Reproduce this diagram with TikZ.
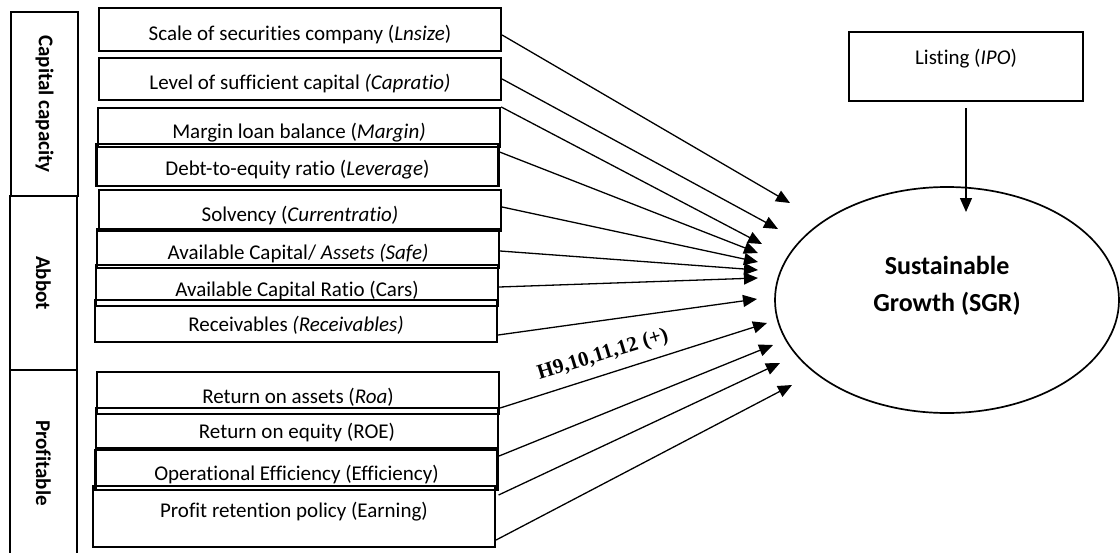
\documentclass[tikz,border=0pt]{standalone}
\usepackage{fontspec}
\setmainfont[Ligatures=NoCommon]{Carlito}
\newfontfamily\timesfont{Liberation Serif}
\usetikzlibrary{arrows.meta}
\usetikzlibrary{shapes.geometric}

\begin{document}
\begin{tikzpicture}[x=0.5pt, y=-0.5pt,
    indicator/.style={draw, line width=1.1pt, inner sep=0pt, minimum width=201pt, text height=13pt, text depth=2.5pt, font=\fontsize{10.5}{12}\selectfont},
    factorbox/.style={draw, line width=0.6pt, inner sep=0pt, rotate=-90, minimum height=33.5pt, font=\fontsize{10.5}{12}\selectfont\bfseries},
    effect/.style={-{Triangle[length=7pt, width=6pt]}, line width=0.65pt}]
      \useasboundingbox (0,0) rectangle (1120,552);

      \node[factorbox, minimum width=92pt] (capital) at (44.5,104) {Capital capacity};
      \node[factorbox, minimum width=87pt] (abbot) at (43.5,283) {Abbot};
      \node[factorbox, minimum width=93pt] (profitable) at (43.5,463) {Profitable};

      \node[indicator, minimum height=21.5pt] (Lnsize) at (300,29.5) {Scale of securities company (\textit{Lnsize})};
      \node[indicator, minimum height=21pt] (Capratio) at (300,79) {Level of sufficient capital \textit{(Capratio)}};
      \node[indicator, minimum height=19.5pt] (Margin) at (299,127.5) {Margin loan balance (\textit{Margin)}};
      \node[indicator, minimum height=21pt] (Leverage) at (297.5,165) {Debt-to-equity ratio (\textit{Leverage})};
      \node[indicator, minimum height=20.5pt] (Currentratio) at (300,210.5) {Solvency (\textit{Currentratio)}};
      \node[indicator, minimum height=19.5pt] (Safe) at (298,248.5) {Available Capital/ \textit{Assets (Safe)}};
      \node[indicator, minimum height=20.5pt] (Cars) at (297,285.5) {Available Capital Ratio (Cars)};
      \node[indicator, minimum height=21pt] (Receivables) at (296,321) {Receivables \textit{(Receivables)}};
      \node[indicator, minimum height=21pt] (Roa) at (298,393) {Return on assets (\textit{Roa})};
      \node[indicator, minimum height=20pt] (ROE) at (297,428) {Return on equity (ROE)};
      \node[indicator, minimum height=20pt] (Efficiency) at (296.5,470) {Operational Efficiency (Efficiency)};
      \node[indicator, minimum height=30.5pt, text depth=11.7pt] (Earning) at (294,516.5) {Profit retention policy (Earning)};

      \node[draw, line width=1pt, inner sep=0pt, minimum width=117pt, minimum height=34.5pt, text height=8pt, text depth=9.7pt, font=\fontsize{10.5}{12}\selectfont] (IPO) at (966,66.5) {Listing (\textit{IPO})};

      \node[ellipse, draw, line width=0.85pt, inner sep=0pt, minimum width=172pt, minimum height=113pt,
        label={[font=\fontsize{13}{18.5}\selectfont\bfseries, align=center, yshift=7.25pt]center:{Sustainable\\Growth (SGR)}}] (SGR) at (947,300) {};

      \node[font=\timesfont\fontsize{10.5}{12}\selectfont\bfseries, rotate=17] (hyp) at (603,355) {H9,10,11,12 (+)};

      \coordinate (tip1) at (790,203);
      \coordinate (tip2) at (778,229);
      \coordinate (tip3) at (762,244);
      \coordinate (tip4) at (758,253);
      \coordinate (tip5) at (758,262);
      \coordinate (tip6) at (758,270);
      \coordinate (tip7) at (758,278);
      \coordinate (tip8) at (757,299);
      \coordinate (tip9) at (767,323);
      \coordinate (tip10) at (773,345);
      \coordinate (tip11) at (780,363);
      \coordinate (tip12) at (792,385);
      \coordinate (tipIPO) at (966,212);

      \draw[effect] ([yshift=-2.75pt]Lnsize.east) -- (tip1);
      \draw[effect] (Capratio.east) -- (tip2);
      \draw[effect] (Margin.north east) -- (tip3);
      \draw[effect] ([yshift=6.5pt]Leverage.east) -- (tip4);
      \draw[effect] ([yshift=1.75pt]Currentratio.east) -- (tip5);
      \draw[effect] ([yshift=-1.25pt]Safe.east) -- (tip6);
      \draw[effect] ([yshift=-0.75pt]Cars.east) -- (tip7);
      \draw[effect] ([yshift=-7pt]Receivables.east) -- (tip8);
      \draw[effect] ([yshift=-7.5pt]Roa.east) -- (tip9);
      \draw[effect] ([yshift=-14pt]ROE.east) -- (tip10);
      \draw[effect] ([yshift=-12.5pt]Efficiency.east) -- (tip11);
      \draw[effect] ([yshift=-11.75pt]Earning.east) -- (tip12);
      \draw[effect] ([yshift=-3pt]IPO.south) -- (tipIPO);
\end{tikzpicture}
\end{document}
